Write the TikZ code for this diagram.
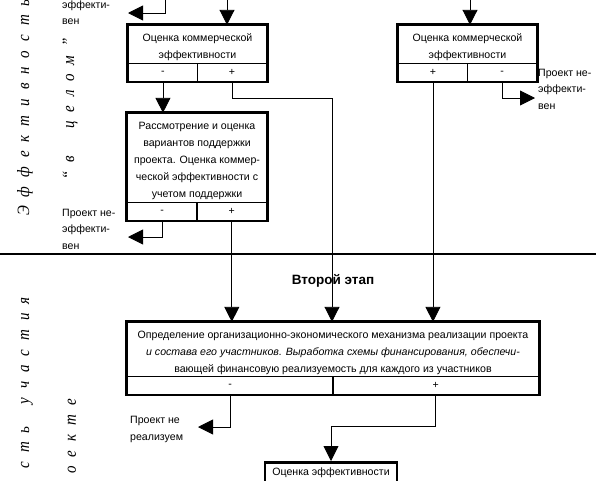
\documentclass[tikz,border=0pt]{standalone}
\usepackage{fontspec}
\setmainfont{Liberation Sans}
\newfontfamily\vfont[LetterSpace=60]{Liberation Serif}
\usetikzlibrary{arrows.meta,calc}
\begin{document}
\begin{tikzpicture}[x=1pt,y=-1pt,
  txt/.style={font=\fontsize{10.6}{17}\selectfont, align=center, inner sep=0pt},
  area/.style={inner sep=0pt},
  cell/.style={draw, line width=0.8pt, font=\fontsize{10.6}{12}\selectfont, inner sep=0pt, minimum height=18pt},
  frame/.style={draw, line width=2.8pt},
  conn/.style={line width=0.9pt},
  arr/.style={conn, -{Triangle[width=15pt,length=15pt]}},
  lbl/.style={font=\fontsize{10.6}{16.5}\selectfont, align=left, anchor=west, inner sep=0pt},
  vert/.style={rotate=90, yscale=1.15, font=\vfont\itshape\fontsize{15}{15}\selectfont, inner sep=0pt, anchor=east},
]
\useasboundingbox (0,0) rectangle (596,480);
\clip (0,0) rectangle (596,480);

% vertical side texts
\node[vert] (v1) at (25,-1) {Эффективность};
\node[vert] (v2) at (70,38) {“в\hspace{14pt} целом”};
\node[vert] (v3) at (27,297) {сть\hspace{9pt} участия};
\node[vert] (v4) at (72,399) {оекте};

% box 1 (left)
\node[area, minimum width=139pt, minimum height=38pt] (b1) at (197.5,44) {};
\node[txt] (b1t) at ($(b1)+(0,3)$) {Оценка коммерческой\\эффективности};
\node[cell, minimum width=69.5pt, anchor=north west] (b1m) at (b1.south west) {-};
\node[cell, minimum width=69.5pt, anchor=north east] (b1p) at (b1.south east) {+};
\draw[frame] (b1.north west) rectangle (b1p.south east);

% box right
\node[area, minimum width=139pt, minimum height=38pt] (rb) at (467.5,44) {};
\node[txt] (rbt) at ($(rb)+(0,3)$) {Оценка коммерческой\\эффективности};
\node[cell, minimum width=69.5pt, anchor=north west] (rbp) at (rb.south west) {+};
\node[cell, minimum width=69.5pt, anchor=north east] (rbm) at (rb.south east) {-};
\draw[frame] (rb.north west) rectangle (rbm.south east);

% box 2
\node[area, minimum width=140pt, minimum height=89pt] (b2) at (197,157.5) {};
\node[txt] (b2t) at ($(b2)+(0,3)$) {Рассмотрение и оценка\\вариантов поддержки\\проекта. Оценка коммер-\\ческой эффективности с\\учетом поддержки};
\node[cell, minimum width=70pt, anchor=north west] (b2m) at (b2.south west) {-};
\node[cell, minimum width=70pt, anchor=north east] (b2p) at (b2.south east) {+};
\draw[frame] (b2.north west) rectangle (b2p.south east);

% big box
\node[area, minimum width=412pt, minimum height=54pt] (bb) at (333,349) {};
\node[txt] (bbt) at ($(bb)+(0,3.5)$) {Определение организационно-экономического механизма реализации проекта\\\textit{и состава его участников. Выработка схемы финансирования, обеспечи-}\\вающей финансовую реализуемость для каждого из участников};
\node[cell, minimum width=206pt, anchor=north west] (bbm) at (bb.south west) {-};
\node[cell, minimum width=206pt, anchor=north east] (bbp) at (bb.south east) {+};
\draw[frame] (bb.north west) rectangle (bbp.south east);

% bottom box
\node[frame, minimum width=132pt, minimum height=40pt, anchor=north, inner sep=0pt] (b5) at (331,461) {};
\node[txt] (b5t) at (331,472.5) {Оценка эффективности};

% separator and heading
\coordinate (sepL) at (0,254);
\coordinate (sepR) at (596,254);
\draw[line width=2pt] (sepL) -- (sepR);
\node[font=\bfseries\fontsize{13.5}{13.5}\selectfont, inner sep=0pt] (h2) at (333,281) {Второй этап};

% labels
\node[lbl] (l0) at (62,12.5) {эффекти-\\вен};
\node[lbl] (l1) at (62,229) {Проект не-\\эффекти-\\вен};
\node[lbl] (l2) at (538,89) {Проект не-\\эффекти-\\вен};
\node[lbl] (l3) at (130,429.5) {Проект не\\реализуем};

% connectors
\coordinate (src0) at (165,0);
\coordinate (e0) at (128,13);
\draw[arr] (src0) |- (e0);
\coordinate (src1) at (227,0);
\draw[arr] (src1) -- (src1 |- b1.north);
\coordinate (src2) at (470,0);
\draw[arr] (src2) -- (src2 |- rb.north);

\draw[arr] (b1m.south) -- (b1m.south |- b2.north);
\coordinate (j1) at (332,98);
\draw[arr] (b1p.south) |- (j1) -- (j1 |- bb.north);
\coordinate (e1) at (128,237);
\draw[arr] (b2m.south) |- (e1);
\draw[arr] (b2p.south) -- (b2p.south |- bb.north);
\draw[arr] (rbp.south) -- (rbp.south |- bb.north);
\coordinate (e2) at (535,98);
\draw[arr] (rbm.south) |- (e2);
\coordinate (e3) at (198,427);
\draw[arr] (bbm.south) |- (e3);
\coordinate (j2) at (331,426);
\draw[arr] (bbp.south) |- (j2) -- (b5.north);
\end{tikzpicture}
\end{document}
